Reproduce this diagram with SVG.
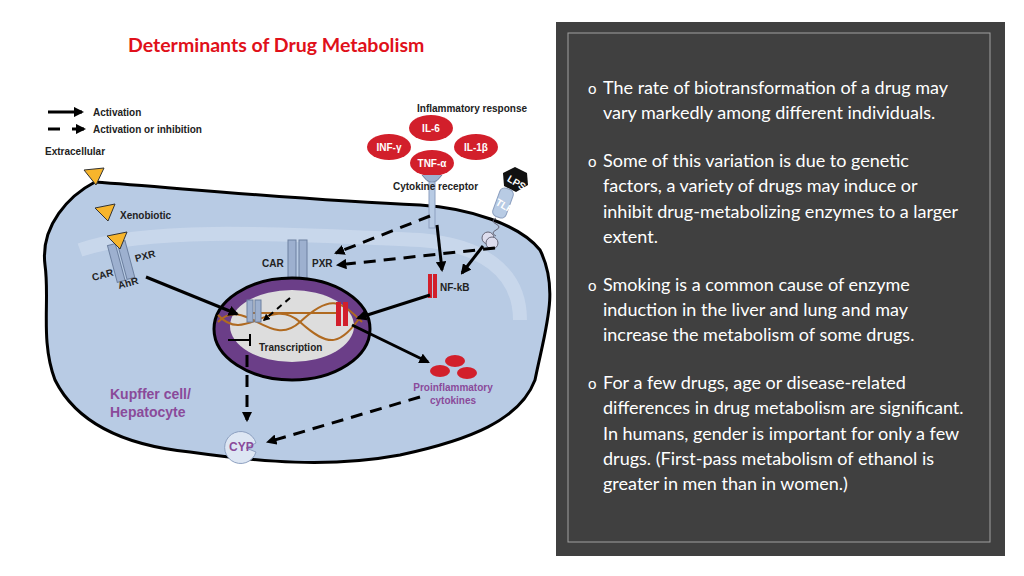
<svg xmlns="http://www.w3.org/2000/svg" width="1024" height="576" viewBox="0 0 1024 576">
<style>
.t{font-family:"Liberation Sans",Arial,sans-serif;font-weight:bold;font-size:10px;fill:#222}
.w{font-family:"Liberation Sans",Arial,sans-serif;font-weight:bold;font-size:10px;fill:#fff}
.p{font-family:Lato,"Open Sans",sans-serif;font-size:18px;fill:#fff}
.a{stroke:#000;stroke-width:3;fill:none}
.d{stroke:#000;stroke-width:3;fill:none;stroke-dasharray:12 8}
.rec{fill:#9db0cf;stroke:#6d80a0;stroke-width:1}
</style>
<defs>
<marker id="ah" viewBox="0 0 10 10" refX="8" refY="5" markerWidth="3.5" markerHeight="3.5" orient="auto"><path d="M0,0L10,5L0,10z" fill="#000"/></marker>
</defs>
<rect width="1024" height="576" fill="#fff"/>
<text x="128" y="52" font-family="Lato,'Liberation Sans',sans-serif" font-weight="bold" font-size="19.5" fill="#e0101a">Determinants of Drug Metabolism</text>
<g id="cell">
<path d="M45,265 C40,225 70,195 95,182 C180,188 300,200 420,205 C470,208 520,225 540,250 C560,290 545,330 535,380 C520,420 470,440 400,455 C330,468 260,462 190,452 C120,445 75,420 55,380 C40,340 50,300 45,265Z" fill="#b8cbe4" stroke="#000" stroke-width="3"/>
<path d="M80,250 C150,225 300,235 420,240 C480,245 520,270 520,320" fill="none" stroke="#cfdcee" stroke-width="14" opacity="0.7"/>
</g>
<g id="legend">
<line x1="48" y1="112" x2="82" y2="112" class="a" marker-end="url(#ah)"/>
<text x="93" y="116" class="t">Activation</text>
<line x1="48" y1="129" x2="60" y2="129" class="a"/><line x1="72" y1="129" x2="84" y2="129" class="a" marker-end="url(#ah)"/>
<text x="93" y="133" class="t">Activation or inhibition</text>
<text x="45" y="155" class="t">Extracellular</text>
</g>
<g id="xeno">
<path d="M84,170L104,168L96,185z" fill="#f7b52c" stroke="#333"/>
<path d="M95,208L115,204L108,221z" fill="#f7b52c" stroke="#333"/>
<text x="120" y="219" class="t">Xenobiotic</text>
</g>
<g id="rec1">
<rect x="112" y="244" width="8" height="38" class="rec" transform="rotate(-15 116 262)"/>
<rect x="122" y="241" width="8" height="38" class="rec" transform="rotate(-15 126 260)"/>
<path d="M107,236L127,232L120,249z" fill="#f7b52c" stroke="#333"/>
<text x="93" y="281" class="t" transform="rotate(-15 93 281)">CAR</text>
<text x="136" y="262" class="t" transform="rotate(-15 136 262)">PXR</text>
<text x="119" y="289" class="t" transform="rotate(-15 119 289)">AhR</text>
</g>
<g id="rec2">
<rect x="288" y="240" width="8" height="40" class="rec"/>
<rect x="299" y="240" width="8" height="40" class="rec"/>
<text x="262" y="267" class="t">CAR</text>
<text x="312" y="267" class="t">PXR</text>
<text x="287" y="288" class="t">AhR</text>
</g>
<g id="nucleus">
<ellipse cx="292" cy="329" rx="78" ry="51" fill="#6b3e88" stroke="#000" stroke-width="3"/>
<ellipse cx="292" cy="326" rx="62" ry="36" fill="#ddd"/>
<path d="M218,322 C245,295 270,350 300,322 S340,300 362,322" fill="none" stroke="#b06a20" stroke-width="2"/>
<path d="M218,315 C245,345 270,295 300,322 S340,345 362,315" fill="none" stroke="#b06a20" stroke-width="2"/>
<path d="M250,313 L340,313" stroke="#b06a20" stroke-width="2"/>
<rect x="247" y="300" width="6" height="22" class="rec"/><rect x="255" y="300" width="6" height="22" class="rec"/>
<rect x="336" y="302" width="5" height="24" fill="#d21f2b"/><rect x="343" y="302" width="5" height="24" fill="#d21f2b"/>
<text x="259" y="351" class="t">Transcription</text>
</g>
<g id="cytokines">
<text x="417" y="112" class="t">Inflammatory response</text>
<ellipse cx="431" cy="128" rx="22" ry="13" fill="#d21f2b"/><text x="431" y="132" class="w" text-anchor="middle">IL-6</text>
<ellipse cx="389" cy="147" rx="22" ry="13" fill="#d21f2b"/><text x="389" y="151" class="w" text-anchor="middle">INF-γ</text>
<ellipse cx="476" cy="147" rx="22" ry="13" fill="#d21f2b"/><text x="476" y="151" class="w" text-anchor="middle">IL-1β</text>
<ellipse cx="432" cy="163" rx="22" ry="13" fill="#d21f2b"/><text x="432" y="167" class="w" text-anchor="middle">TNF-α</text>
<path d="M422,175 Q432,190 442,175" fill="#9db0cf" stroke="#6d80a0"/>
<rect x="429" y="182" width="6" height="46" fill="#b8cbe4" stroke="#8da0c0"/>
<text x="393" y="190" class="t">Cytokine receptor</text>
</g>
<g id="tlr">
<polygon points="503,173 515,167 527,173 528,185 516,192 504,186" fill="#111"/>
<text x="508" y="185" class="w" transform="rotate(30 515 180)">LPS</text>
<rect x="496" y="188" width="14" height="30" rx="5" fill="#b8cbe4" stroke="#8da0c0" transform="rotate(20 503 203)"/>
<text x="495" y="207" class="w" transform="rotate(30 500 205)">TLR</text>
<path d="M496,218 q-6,3 0,6 q6,3 0,6 q-6,3 0,6" fill="none" stroke="#667"/>
<circle cx="488" cy="238" r="6" fill="#dde" stroke="#667"/><circle cx="492" cy="243" r="6" fill="#dde" stroke="#667"/>
</g>
<g id="nfkb">
<rect x="428" y="274" width="4" height="24" fill="#d21f2b"/><rect x="433" y="274" width="4" height="24" fill="#d21f2b"/>
<text x="440" y="291" class="t">NF-kB</text>
</g>
<g id="proinflam">
<ellipse cx="455" cy="361" rx="10" ry="6" fill="#d21f2b"/>
<ellipse cx="440" cy="371" rx="10" ry="6" fill="#d21f2b"/>
<ellipse cx="467" cy="373" rx="10" ry="6" fill="#d21f2b"/>
<text x="453" y="391" class="t" text-anchor="middle" style="fill:#8a4a9a">Proinflammatory</text>
<text x="453" y="404" class="t" text-anchor="middle" style="fill:#8a4a9a">cytokines</text>
</g>
<text x="110" y="399" font-family="Liberation Sans,Arial,sans-serif" font-weight="bold" font-size="14" fill="#8a4a9a">Kupffer cell/</text>
<text x="110" y="417" font-family="Liberation Sans,Arial,sans-serif" font-weight="bold" font-size="14" fill="#8a4a9a">Hepatocyte</text>
<g id="cyp">
<path d="M256,443 A16,16 0 1 0 256,452 L246,448z" fill="#dde6f3" stroke="#8da0c0"/>
<text x="229" y="451" class="t" style="fill:#8a4a9a;font-size:12px">CYP</text>
</g>
<g id="connectors">
<line x1="146" y1="277" x2="237" y2="314" class="a" marker-end="url(#ah)"/>
<line x1="430" y1="295" x2="358" y2="318" class="a" marker-end="url(#ah)"/>
<line x1="352" y1="325" x2="428" y2="362" class="a" marker-end="url(#ah)"/>
<line x1="437" y1="225" x2="442" y2="270" class="a" marker-end="url(#ah)"/>
<line x1="483" y1="246" x2="462" y2="273" class="a" marker-end="url(#ah)"/>
<line x1="430" y1="216" x2="336" y2="253" class="d" marker-end="url(#ah)"/>
<line x1="495" y1="248" x2="338" y2="265" class="d" marker-end="url(#ah)"/>
<line x1="290" y1="298" x2="264" y2="320" stroke="#000" stroke-width="2" stroke-dasharray="6 5" marker-end="url(#ah)"/>
<line x1="247" y1="355" x2="247" y2="420" class="d" marker-end="url(#ah)"/>
<line x1="420" y1="397" x2="268" y2="442" class="d" marker-end="url(#ah)"/>
<path d="M228,340 L250,340 M250,334 L250,346" stroke="#000" stroke-width="2"/>
</g>
<g id="panel">
<rect x="556" y="22" width="449" height="534" fill="#404040"/>
<rect x="568" y="33" width="422" height="509" fill="none" stroke="#a0a0a0" stroke-width="1"/>
<g class="p">
<text x="588" y="94" font-size="15">o</text><text x="603" y="94">The rate of biotransformation of a drug may</text>
<text x="603" y="119">vary markedly among different individuals.</text>
<text x="588" y="167" font-size="15">o</text><text x="603" y="167">Some of this variation is due to genetic</text>
<text x="603" y="192">factors, a variety of drugs may induce or</text>
<text x="603" y="218">inhibit drug-metabolizing enzymes to a larger</text>
<text x="603" y="243">extent.</text>
<text x="588" y="291" font-size="15">o</text><text x="603" y="291">Smoking is a common cause of enzyme</text>
<text x="603" y="316">induction in the liver and lung and may</text>
<text x="603" y="341">increase the metabolism of some drugs.</text>
<text x="588" y="389" font-size="15">o</text><text x="603" y="389">For a few drugs, age or disease-related</text>
<text x="603" y="414">differences in drug metabolism are significant.</text>
<text x="603" y="440">In humans, gender is important for only a few</text>
<text x="603" y="465">drugs. (First-pass metabolism of ethanol is</text>
<text x="603" y="490">greater in men than in women.)</text>
</g>
</g>
</svg>
